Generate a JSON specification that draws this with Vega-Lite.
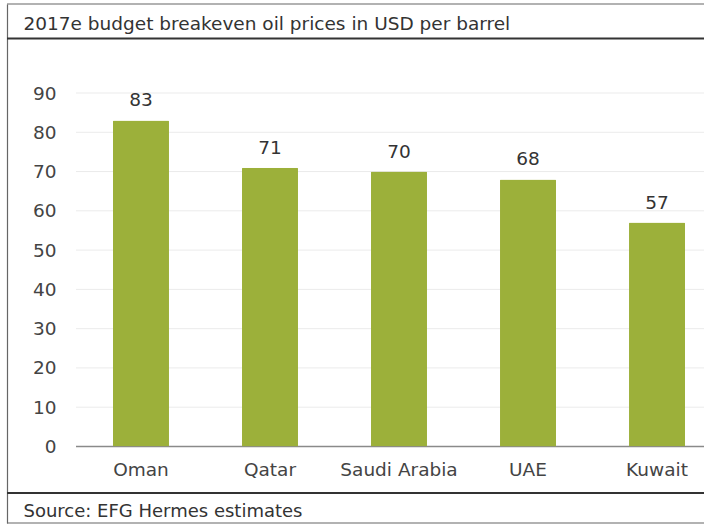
{
  "$schema": "https://vega.github.io/schema/vega-lite/v6.json",
  "width": 697,
  "height": 519,
  "autosize": "none",
  "padding": {"left": 7, "top": 4, "right": 0, "bottom": 4},
  "background": "white",
  "config": {"view": {"stroke": null}, "font": "DejaVu Sans"},
  "resolve": {"scale": {"x": "independent"}, "axis": {"x": "independent"}},
  "layer": [
    {
      "layer": [
        {
          "data": {"values": [{"v": 10}, {"v": 20}, {"v": 30}, {"v": 40}, {"v": 50}, {"v": 60}, {"v": 70}, {"v": 80}, {"v": 90}]},
          "mark": {"type": "rule", "color": "#ebebeb", "strokeWidth": 1},
          "encoding": {
            "x": {"datum": 0, "type": "quantitative", "scale": {"domain": [-0.1099, 1], "nice": false, "zero": false},
              "axis": {"orient": "top", "title": "2017e budget breakeven oil prices in USD per barrel", "labels": false, "ticks": false, "domain": false, "grid": false,
                "titleX": 16, "titleY": 25, "titleAlign": "left", "titleAnchor": "start", "titleBaseline": "alphabetic", "titleFontSize": 18.5, "titleFontWeight": "normal", "titleColor": "#333"}},
            "x2": {"datum": 1},
            "y": {"field": "v", "type": "quantitative", "scale": {"domain": [-19.48, 112.66], "nice": false, "zero": false}}
          }
        },
        {
          "data": {"values": [{"v": 0}]},
          "mark": {"type": "rule", "color": "#8a8a8a", "strokeWidth": 1.5},
          "encoding": {
            "x": {"datum": 0, "type": "quantitative"},
            "x2": {"datum": 1},
            "y": {"field": "v", "type": "quantitative"}
          }
        }
      ]
    },
    {
      "data": {"values": [
        {"country": "Oman", "price": 83},
        {"country": "Qatar", "price": 71},
        {"country": "Saudi Arabia", "price": 70},
        {"country": "UAE", "price": 68},
        {"country": "Kuwait", "price": 57}
      ]},
      "encoding": {
        "x": {"field": "country", "type": "nominal", "sort": null,
          "scale": {"paddingInner": 0.566, "paddingOuter": 0.4845, "align": 0.848},
          "axis": {"orient": "bottom", "offset": -76.5, "domain": false, "ticks": false, "labelPadding": 14, "labelAngle": 0, "labelFontSize": 18.5, "labelColor": "#444",
            "title": "Source: EFG Hermes estimates", "titleX": 16, "titleY": 69.5, "titleAlign": "left", "titleAnchor": "start", "titleBaseline": "alphabetic", "titleFontSize": 18, "titleFontWeight": "normal", "titleColor": "#333"}},
        "y": {"field": "price", "type": "quantitative", "scale": {"domain": [-19.48, 112.66], "nice": false, "zero": false},
          "axis": {"values": [0, 10, 20, 30, 40, 50, 60, 70, 80, 90], "grid": false, "ticks": false, "tickSize": 0, "domain": true, "domainColor": "#666", "domainWidth": 1.2,
            "labelPadding": -49, "labelFontSize": 18.5, "labelColor": "#444", "title": null}}
      },
      "layer": [
        {"mark": {"type": "bar", "color": "#9cb03a", "cornerRadiusTopLeft": 1, "cornerRadiusTopRight": 1}},
        {"mark": {"type": "text", "baseline": "alphabetic", "dy": -14, "fontSize": 18.5, "color": "#333"},
          "encoding": {"text": {"field": "price", "type": "quantitative"}}}
      ]
    },
    {
      "data": {"values": [{"edge": 112.66}, {"edge": -19.48}]},
      "mark": {"type": "rule", "color": "#666", "strokeWidth": 1.2},
      "encoding": {"y": {"field": "edge", "type": "quantitative"}}
    },
    {
      "data": {"values": [{"edge": 103.87}, {"edge": -11.84}]},
      "mark": {"type": "rule", "color": "#333", "strokeWidth": 2},
      "encoding": {"y": {"field": "edge", "type": "quantitative"}}
    }
  ]
}
